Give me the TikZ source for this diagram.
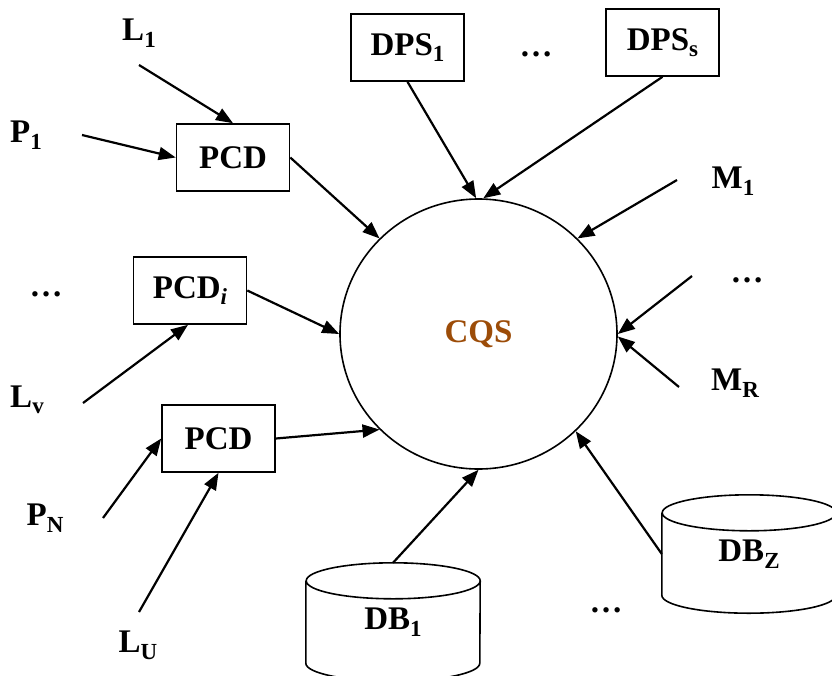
\documentclass[tikz,border=0pt]{standalone}
\usepackage{fontspec}
\setmainfont{Liberation Serif}
\usetikzlibrary{arrows.meta,shapes.geometric}
\definecolor{cqsbrown}{RGB}{156,76,8}
\newcommand{\lowsub}[1]{\raisebox{-0.2em}{\fontsize{23}{26}\selectfont #1}}

\begin{document}
\begin{tikzpicture}[x=1pt, y=-1pt, every node/.style={font=\fontsize{33}{38}\selectfont\bfseries}]
	\tikzstyle{unit} = [rectangle,draw,line width=1.6pt,minimum width=113pt,minimum height=67pt,inner sep=0pt]
	\tikzstyle{store} = [rectangle,minimum width=174pt,minimum height=82pt,inner sep=0pt]
	\tikzstyle{drum} = [line width=1.6pt]
	\tikzstyle{link} = [-{Triangle[length=17pt,width=13pt]},line width=2.2pt]
	\useasboundingbox (0,0) rectangle (832,675);

	\node[ellipse,draw,line width=1.6pt,minimum width=277pt,minimum height=270pt,text=cqsbrown](cqs)at (478.5,334){CQS};

	\node[unit](pcd-1)at (233,157.5){PCD};
	\node[unit](pcd-i)at (190,290.5){PCD\lowsub{\itshape i}};
	\node[unit](pcd-n)at (218.5,438.5){PCD};
	\node[unit](dps-1)at (407.5,47.5){DPS\lowsub{1}};
	\node[unit](dps-s)at (662.5,42.5){DPS\lowsub{s}};
	\node[store](db-1)at (393,622){DB\lowsub{1}};
	\node[store](db-z)at (749,554){DB\lowsub{Z}};

	% database drums
	\draw[drum] (db-1.north west) -- (db-1.south west)
	arc[start angle=180,end angle=360,x radius=87pt,y radius=18pt] -- (db-1.north east)
	arc[start angle=0,end angle=360,x radius=87pt,y radius=18pt];
	\draw[drum] (db-z.north west) -- (db-z.south west)
	arc[start angle=180,end angle=360,x radius=87pt,y radius=18pt] -- (db-z.north east)
	arc[start angle=0,end angle=360,x radius=87pt,y radius=18pt];

	\node(l-1)at (139,33){L\lowsub{1}};
	\node(p-1)at (26,135){P\lowsub{1}};
	\node(dots-l)at (46,294){…};
	\node(l-v)at (27,400){L\lowsub{v}};
	\node(p-n)at (45,518){P\lowsub{N}};
	\node(l-u)at (138,645){L\lowsub{U}};
	\node(dots-t)at (536,54){…};
	\node(m-1)at (733,181){M\lowsub{1}};
	\node(dots-r)at (747,280){…};
	\node(m-r)at (735,383){M\lowsub{R}};
	\node(dots-b)at (606,610){…};

	\coordinate(l-1-t)at (139,65);
	\coordinate(p-1-t)at (82,135);
	\coordinate(l-v-t)at (83,403);
	\coordinate(p-n-t)at (103,518);
	\coordinate(l-u-t)at (139,612);
	\coordinate(m-1-t)at (677,180);
	\coordinate(dots-r-t)at (692,276);
	\coordinate(m-r-t)at (679,387);

	\path[link] (l-1-t) edge (pcd-1.north)
	(p-1-t) edge (pcd-1.west)
	(l-v-t) edge ([xshift=-2pt]pcd-i.south)
	(p-n-t) edge (pcd-n.west)
	(l-u-t) edge (pcd-n.south);
	\path[link] (pcd-1.east) edge (cqs.136)
	(pcd-i.east) edge (cqs.180)
	(pcd-n.east) edge (cqs.224)
	(dps-1.south) edge (cqs.91)
	(dps-s.south) edge (cqs.88)
	(m-1-t) edge (cqs.44)
	(dots-r-t) edge (cqs.0)
	(m-r-t) edge (cqs.-1)
	([yshift=18pt]db-1.north) edge (cqs.270)
	(db-z.west) edge (cqs.315);
\end{tikzpicture}
\end{document}
